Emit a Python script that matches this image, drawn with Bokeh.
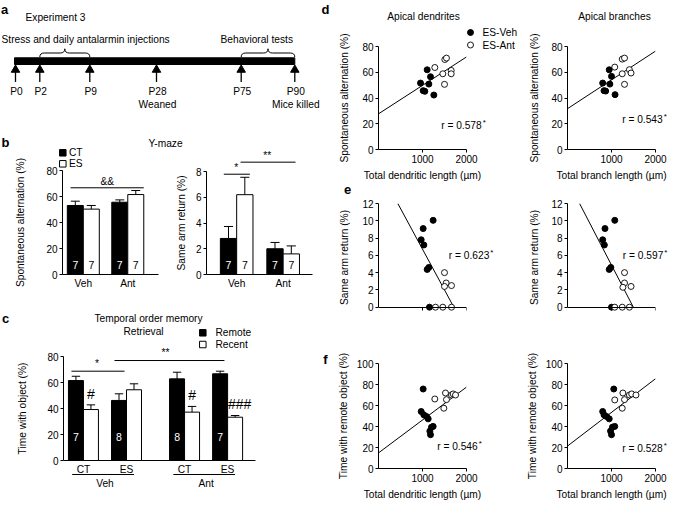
from bokeh.plotting import figure
from bokeh.layouts import row, column, Spacer
from bokeh.models import Range1d, FixedTicker, Label
from bokeh.embed import file_html
from bokeh.resources import INLINE

FONT = "Liberation Sans"
TXT = "10.2px"
TICK = "10px"

# ------------------------------------------------------------------ data
# a: timeline
tl_labels = ["P0", "P2", "P9", "P28", "P75", "P90"]
tl_notes = ["", "", "", "Weaned", "", "Mice killed"]
# b: Y-maze
b_groups = ["Veh", "Ant"]
alt_ct = [53.1, 55.6]
alt_ct_err = [3.3, 1.8]
alt_es = [50.3, 61.5]
alt_es_err = [2.8, 3.1]
ret_ct = [2.8, 2.0]
ret_ct_err = [0.93, 0.49]
ret_es = [6.2, 1.6]
ret_es_err = [1.35, 0.62]
b_n_ct = [7, 7]
b_n_es = [7, 7]
# c: temporal order memory (Veh-CT, Veh-ES, Ant-CT, Ant-ES)
c_groups = ["Veh", "Ant"]
c_conds = ["CT", "ES", "CT", "ES"]
remote = [61.5, 46.2, 62.8, 66.7]
remote_err = [3.3, 5.1, 5.1, 2.0]
recent = [39.2, 54.4, 37.2, 33.3]
recent_err = [3.6, 4.6, 4.4, 1.3]
c_n = [7, 8, 8, 7]
c_marks = ["#", "", "#", "###"]
# d: spontaneous alternation
d1_veh_x = [1106, 1182, 955, 1144, 1015, 1053, 1258]
d1_veh_y = [61.9, 56.5, 51.6, 50.8, 45.7, 45.2, 42.3]
d1_ant_x = [1280, 1508, 1545, 1462, 1652, 1652, 1500]
d1_ant_y = [63.7, 69.9, 71.0, 58.8, 61.4, 58.8, 50.6]
d1_fit = (27.7, 0.0221)
d1_r = "0.578"
d2_veh_x = [948, 1000, 800, 963, 830, 867, 1081]
d2_veh_y = [61.9, 56.8, 51.6, 50.8, 45.7, 45.4, 42.6]
d2_ant_x = [1074, 1244, 1296, 1244, 1407, 1444, 1296]
d2_ant_y = [64.0, 70.2, 71.0, 58.8, 62.0, 59.4, 50.6]
d2_fit = (31.7, 0.02236)
d2_r = "0.543"
# e: same arm return
e1_veh_x = [1242, 1015, 970, 1030, 1106, 1144, 1159]
e1_veh_y = [10.05, 9.1, 7.8, 7.2, 4.37, 4.6, 0]
e1_ant_x = [1500, 1538, 1500, 1659, 1295, 1462, 1659]
e1_ant_y = [4.0, 2.8, 2.4, 2.5, 0, 0, 0]
e1_fit = (16.14, -0.009427)
e1_r = "0.623"
e2_veh_x = [1074, 852, 800, 837, 948, 985, 1000]
e2_veh_y = [10.05, 9.1, 7.8, 7.2, 4.37, 4.6, 0]
e2_ant_x = [1296, 1296, 1259, 1444, 1074, 1244, 1407]
e2_ant_y = [4.0, 2.8, 2.3, 2.4, 0, 0, 0]
e2_fit = (14.69, -0.00982)
e2_r = "0.597"
# f: time with remote object
f1_veh_x = [1015, 970, 1030, 1091, 1129, 1242, 1205, 1167, 1182]
f1_veh_y = [75.7, 54.3, 51.1, 49.5, 47.3, 40.1, 39.4, 35.6, 32.2]
f1_ant_x = [1280, 1485, 1523, 1545, 1659, 1697, 1750]
f1_ant_y = [66.2, 57.4, 71.9, 65.6, 70.0, 71.0, 70.0]
f1_fit = (14.86, 0.03133)
f1_r = "0.546"
f2_veh_x = [1052, 800, 830, 889, 948, 1074, 1022, 978, 1000]
f2_veh_y = [75.7, 54.3, 51.1, 49.5, 47.3, 40.1, 39.4, 35.6, 32.2]
f2_ant_x = [1074, 1244, 1259, 1296, 1407, 1459, 1556]
f2_ant_y = [65.3, 57.4, 71.9, 65.6, 70.0, 71.0, 70.0]
f2_fit = (21.4, 0.03205)
f2_r = "0.528"

# ------------------------------------------------------------------ layout helpers
W_ALL, H_ALL = 669, 502
# offset (px) of each region relative to the reference picture
OFF_L = (0, 0)
OFF_D = (-10, -2)
OFF_E = (-10, -8)
OFF_F = (-10, -16)


class Cal:
    """maps a panel's data values to page pixels (reference calibration + region offset)"""
    def __init__(self, xd0, xp0, xd1, xp1, yd0, yp0, yd1, yp1, off=(0, 0)):
        self.ax = (xp1 - xp0) / (xd1 - xd0)
        self.bx = xp0 - self.ax * xd0 + off[0]
        self.ay = (yp1 - yp0) / (yd1 - yd0)
        self.by = yp0 - self.ay * yd0 + off[1]

    def px(self, d):
        return self.ax * d + self.bx

    def py(self, d):
        return self.ay * d + self.by


def no_align(p):
    if "frame_align" in p.properties():
        p.frame_align = False


def make(canvas, cal, xr, yr):
    cx0, cy0, cx1, cy1 = canvas
    fl = round(cal.px(xr[0])) - cx0
    fr = cx1 - round(cal.px(xr[1]))
    ft = round(cal.py(yr[1])) - cy0
    fb = cy1 - round(cal.py(yr[0]))
    p = figure(width=cx1 - cx0, height=cy1 - cy0, x_range=Range1d(*xr), y_range=Range1d(*yr),
               min_border_left=fl, min_border_right=fr, min_border_top=ft,
               min_border_bottom=fb, output_backend="svg", toolbar_location=None,
               title=None)
    p.outline_line_color = None
    p.xgrid.grid_line_color = None
    p.ygrid.grid_line_color = None
    no_align(p)
    return p


def base_axis(ax):
    ax.axis_line_color = "black"
    ax.axis_line_width = 1
    ax.major_tick_line_color = "black"
    ax.major_tick_line_width = 1
    ax.minor_tick_line_color = None
    ax.major_tick_in = 0
    ax.major_tick_out = 3
    ax.major_label_standoff = 2
    ax.major_label_text_font = FONT
    ax.major_label_text_font_size = TICK
    ax.major_label_text_color = "black"
    ax.axis_label_text_font = FONT
    ax.axis_label_text_font_size = TXT
    ax.axis_label_text_font_style = "normal"
    ax.axis_label_text_color = "black"


def style_y(p, ticks, bounds, label, standoff):
    ax = p.yaxis[0]
    base_axis(ax)
    ax.ticker = FixedTicker(ticks=ticks)
    ax.bounds = bounds
    ax.axis_label = label
    ax.axis_label_standoff = standoff


def style_x(p, ticks, bounds, label, standoff):
    ax = p.xaxis[0]
    base_axis(ax)
    ax.ticker = FixedTicker(ticks=ticks)
    ax.bounds = bounds
    ax.axis_label = label
    ax.axis_label_standoff = standoff


def style_xcat(p, ticks, labels):
    ax = p.xaxis[0]
    base_axis(ax)
    ticks = [round(t, 3) for t in ticks]
    ax.ticker = FixedTicker(ticks=ticks)
    ax.major_label_overrides = {t: s for t, s in zip(ticks, labels)}
    ax.major_tick_out = 0
    ax.major_label_standoff = 3
    ax.major_label_text_font_size = TXT


def put(p, x, y, text, size=TXT, align="center", baseline="middle", bold=False,
        color="black"):
    p.add_layout(Label(x=x, y=y, text=text, text_font=FONT, text_font_size=size,
                       text_align=align, text_baseline=baseline, text_color=color,
                       text_font_style="bold" if bold else "normal"))


def err(p, xs, tops, errs, hw=0.28):
    ys = [t + e for t, e in zip(tops, errs)]
    p.segment(x0=xs, y0=tops, x1=xs, y1=ys, line_color="black", line_width=1)
    p.segment(x0=[x - hw for x in xs], y0=ys, x1=[x + hw for x in xs], y1=ys,
              line_color="black", line_width=1)


# overlay: one transparent canvas over the whole page (page pixels) carrying the
# free-standing annotation texts and the timeline schematic
ov = figure(width=W_ALL, height=H_ALL, x_range=Range1d(0, W_ALL), y_range=Range1d(H_ALL, 0),
            x_axis_type=None, y_axis_type=None, min_border=0, output_backend="svg",
            toolbar_location=None, title=None)
ov.background_fill_color = None
ov.border_fill_color = None
ov.outline_line_color = None
no_align(ov)


def T(x, y, text, off=OFF_L, **kw):
    put(ov, x + off[0], y + off[1], text, **kw)


def oseg(x0, x1, y0):
    ov.segment(x0=[x0], y0=[y0], x1=[x1], y1=[y0], line_color="black", line_width=1)


# ------------------------------------------------------------------ panel a (schematic)
tl_pos = [15, 39.3, 89.3, 156, 240.7, 294.3]   # schematic positions on the timeline
T(4, 8.5, "a", size="13px", bold=True)
T(25, 17, "Experiment 3", align="left")
T(1, 39, "Stress and daily antalarmin injections", align="left")
T(220, 39, "Behavioral tests", align="left")
ov.quad(left=[tl_pos[0] - 1], right=[tl_pos[-1]], top=[57.3], bottom=[64], color="black")


def brace(xa, xb, yb, yf, yt, r=4.5):
    xm = (xa + xb) / 2
    ov.quadratic(x0=[xa, xm - r, xm, xb - r], y0=[yb, yf, yt, yf],
                 x1=[xa + r, xm, xm + r, xb], y1=[yf, yt, yf, yb],
                 cx=[xa, xm, xm, xb], cy=[yf, yf, yf, yf], line_color="black", line_width=1)
    ov.segment(x0=[xa + r, xm + r], y0=[yf, yf], x1=[xm - r, xb - r], y1=[yf, yf],
               line_color="black", line_width=1)


brace(tl_pos[1], tl_pos[2], 56.5, 52.5, 48.3)
brace(tl_pos[4], tl_pos[5], 56.5, 52.5, 48.3)
ov.segment(x0=tl_pos, y0=[71] * 6, x1=tl_pos, y1=[81.5] * 6, line_color="black", line_width=1.3)
ov.scatter(tl_pos, [69.3] * 6, marker="triangle", size=8.5, color="black")
for xp, lab, note in zip(tl_pos, tl_labels, tl_notes):
    T(xp + 1, 90.7, lab)
    if note:
        T(xp + 1, 104, note)

# ------------------------------------------------------------------ panel b
cal_b1 = Cal(0, 62, 6, 158, 0, 274, 80, 170)
pb1 = make((0, 112, 172, 298), cal_b1, (0, 6), (0, 80))
style_y(pb1, [0, 20, 40, 60, 80], (0, 80), "Spontaneous alternation (%)", 17)


def pair_bars(p, off, gstep, ct, ct_err, es, es_err, n_ct, n_es, n_y):
    x_ct = [off + g * gstep for g in range(len(ct))]
    x_es = [x + 1 for x in x_ct]
    p.vbar(x=x_ct, top=ct, bottom=0, width=1, fill_color="black", line_color="black")
    p.vbar(x=x_es, top=es, bottom=0, width=1, fill_color="white", line_color="black")
    err(p, x_ct + x_es, ct + es, ct_err + es_err)
    for x, n in zip(x_ct, n_ct):
        put(p, x, n_y, str(n), color="white", size="10.5px")
    for x, n in zip(x_es, n_es):
        put(p, x, n_y, str(n), size="10.5px")
    return x_ct, x_es


xb1_ct, xb1_es = pair_bars(pb1, 0.8, 2.78, alt_ct, alt_ct_err, alt_es, alt_es_err,
                           b_n_ct, b_n_es, 7.0)
style_xcat(pb1, [c + 0.5 for c in xb1_ct], b_groups)
pb1.segment(x0=[0.5], y0=[66.7], x1=[xb1_es[-1] + 0.5], y1=[66.7], line_color="black", line_width=1)
put(pb1, 2.8, 71.8, "&&")
T(5, 141.7, "b", size="13px", bold=True)
ov.scatter([62.3], [152.3], marker="square", size=6.5, color="black")
ov.scatter([62.3], [163.3], marker="square", size=6.5, fill_color="white", line_color="black",
           line_width=1)
T(68.5, 152.3, "CT", align="left")
T(68.5, 163.3, "ES", align="left")
T(165, 143, "Y-maze")

cal_b2 = Cal(0, 206, 6.5, 312, 0, 274, 8, 170.7)
pb2 = make((172, 112, 322, 298), cal_b2, (0, 6.5), (0, 8))
style_y(pb2, [0, 2, 4, 6, 8], (0, 8), "Same arm return (%)", 6)
xb2_ct, xb2_es = pair_bars(pb2, 1.35, 2.85, ret_ct, ret_ct_err, ret_es, ret_es_err,
                           b_n_ct, b_n_es, 0.7)
style_xcat(pb2, [c + 0.5 for c in xb2_ct], b_groups)
pb2.segment(x0=[1.06], y0=[7.79], x1=[2.66], y1=[7.79], line_color="black", line_width=1)
T(cal_b2.px(1.82), cal_b2.py(8.3), "*")
oseg(cal_b2.px(2.09), cal_b2.px(5.46), cal_b2.py(8.7))
T(cal_b2.px(3.72), cal_b2.py(9.2), "**")

# ------------------------------------------------------------------ panel c
cal_c = Cal(0, 63, 12.8, 255, 0, 460, 80, 356)
pc = make((0, 298, 322, 502), cal_c, (0, 12.8), (0, 80))
style_y(pc, [0, 20, 40, 60, 80], (0, 80), "Time with object (%)", 16)
x_rem = [0.83 + (i % 2) * 2.87 + (i // 2) * 6.74 for i in range(4)]
x_rec = [x + 1 for x in x_rem]
pc.vbar(x=x_rem, top=remote, bottom=0, width=1, fill_color="black", line_color="black")
pc.vbar(x=x_rec, top=recent, bottom=0, width=1, fill_color="white", line_color="black")
err(pc, x_rem + x_rec, remote + recent, remote_err + recent_err)
for x, n in zip(x_rem, c_n):
    put(pc, x, 17.9, str(n), color="white", size="10.5px")
for x, t, e, m in zip(x_rec, recent, recent_err, c_marks):
    if m:
        put(pc, x + (0.3 if len(m) > 1 else 0), t + e + 8.5, m, size="14px")
pair_c = [x + 0.5 for x in x_rem]
style_xcat(pc, pair_c, c_conds)
pc.segment(x0=[0.53], y0=[68.7], x1=[4.07], y1=[68.7], line_color="black", line_width=1)
put(pc, 2.24, 74.4, "*")
pc.segment(x0=[3.4], y0=[76.9], x1=[10.73], y1=[76.9], line_color="black", line_width=1)
T(cal_c.px(6.8), cal_c.py(83.3), "**")
for gi, g in enumerate(c_groups):
    a, b = pair_c[2 * gi], pair_c[2 * gi + 1]
    oseg(cal_c.px(a - 0.75), cal_c.px(b + 0.5), 474)
    T(cal_c.px((a + b) / 2), 483, g)
T(5, 318, "c", size="13px", bold=True)
T(148, 318, "Temporal order memory")
T(143, 331, "Retrieval")
ov.scatter([202.3], [332.3], marker="square", size=6.5, color="black")
ov.scatter([202.3], [344], marker="square", size=6.5, fill_color="white", line_color="black",
           line_width=1)
T(215, 332.3, "Remote", align="left")
T(215, 344, "Recent", align="left")

# ------------------------------------------------------------------ panels d-f


def scatter_panel(canvas, cal, off, yr, yticks, ylabel, ystand, xlabel,
                  vx, vy, axx, axy, fit, r, rpos, fixed0=False):
    p = make(canvas, cal, (0, 2000), yr)
    style_y(p, yticks, (0, yticks[-1]), ylabel, ystand)
    style_x(p, [1000, 2000], (0, 2000), xlabel, 4)
    if fixed0:
        p.xaxis[0].fixed_location = 0
    a, b = fit
    ymax = yticks[-1]
    if b < 0:
        x0, x1 = max(0, (ymax - a) / b), min(2000, -a / b)
    else:
        x0, x1 = 0, 2000
    p.line([x0, x1], [a + b * x0, a + b * x1], line_color="black", line_width=1)
    p.scatter(vx, vy, size=6, fill_color="black", line_color="black")
    p.scatter(axx, axy, size=6, fill_color="white", line_color="black", line_width=0.9)
    T(rpos[0], rpos[1], "r = " + r, off=off, align="left")
    T(rpos[0] + 41.5, rpos[1] - 3, "*", off=off, align="left", size="8px")
    return p


LX = (0, 388, 2000, 476)
RX = (0, 577, 2000, 665)
DY = (0, 151, 80, 47.7)
EY = (0, 315, 12, 210.7)
FY = (0, 485, 100, 379.3)
T80 = [0, 20, 40, 60, 80]
T12 = [0, 2, 4, 6, 8, 10, 12]
T100 = [0, 20, 40, 60, 80, 100]
LD = "Total dendritic length (\u00b5m)"
LB = "Total branch length (\u00b5m)"
XL, XM, XR = 322, 520, 669
YD, YE, YF, YB = 0, 186, 347, 502

pd1 = scatter_panel((XL, YD, XM, YE), Cal(*LX, *DY, off=OFF_D), OFF_D, (0, 80), T80,
                    "Spontaneous alternation (%)", 9, LD,
                    d1_veh_x, d1_veh_y, d1_ant_x, d1_ant_y, d1_fit, d1_r, (450.7, 127.3))
T(335, 10.5, "d", off=OFF_D, size="13px", bold=True)
T(433, 18.3, "Apical dendrites", off=OFF_D)
ov.scatter([480 + OFF_D[0]], [34 + OFF_D[1]], size=6, color="black")
ov.scatter([480 + OFF_D[0]], [46.5 + OFF_D[1]], size=6, fill_color="white", line_color="black",
           line_width=0.9)
T(492, 34, "ES-Veh", off=OFF_D, align="left")
T(492, 46.5, "ES-Ant", off=OFF_D, align="left")

pd2 = scatter_panel((XM, YD, XR, YE), Cal(*RX, *DY, off=OFF_D), OFF_D, (0, 80), T80,
                    "Spontaneous alternation (%)", 8, LB,
                    d2_veh_x, d2_veh_y, d2_ant_x, d2_ant_y, d2_fit, d2_r, (631.7, 120.7))
T(624, 17.5, "Apical branches", off=OFF_D)

pe1 = scatter_panel((XL, YE, XM, YF), Cal(*LX, *EY, off=OFF_E), OFF_E, (-0.5, 12), T12,
                    "Same arm return (%)", 9, LD,
                    e1_veh_x, e1_veh_y, e1_ant_x, e1_ant_y, e1_fit, e1_r, (458.3, 262.7),
                    fixed0=True)
T(357, 197, "e", off=OFF_E, size="13px", bold=True)

pe2 = scatter_panel((XM, YE, XR, YF), Cal(*RX, *EY, off=OFF_E), OFF_E, (-0.5, 12), T12,
                    "Same arm return (%)", 8, LB,
                    e2_veh_x, e2_veh_y, e2_ant_x, e2_ant_y, e2_fit, e2_r, (632.3, 262.7),
                    fixed0=True)

pf1 = scatter_panel((XL, YF, XM, YB), Cal(*LX, *FY, off=OFF_F), OFF_F, (0, 100), T100,
                    "Time with remote object (%)", 5, LD,
                    f1_veh_x, f1_veh_y, f1_ant_x, f1_ant_y, f1_fit, f1_r, (446.7, 461.7))
T(335, 375, "f", off=OFF_F, size="13px", bold=True)

pf2 = scatter_panel((XM, YF, XR, YB), Cal(*RX, *FY, off=OFF_F), OFF_F, (0, 100), T100,
                    "Time with remote object (%)", 5, LB,
                    f2_veh_x, f2_veh_y, f2_ant_x, f2_ant_y, f2_fit, f2_r, (631.7, 464.3))

left = column(Spacer(width=XL, height=112), row(pb1, pb2), pc)
right = column(row(pd1, pd2), row(pe1, pe2), row(pf1, pf2))
main = row(left, right)
ov.margin = (-H_ALL, 0, 0, 0)
page = column(main, ov)

open("out.html", "w").write(file_html(page, INLINE))
